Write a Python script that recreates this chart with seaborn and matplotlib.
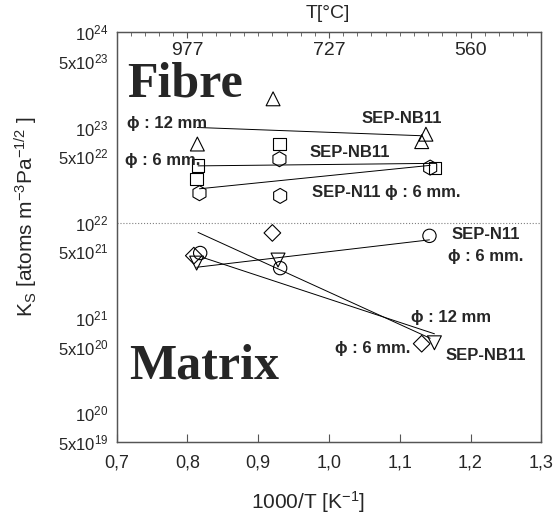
import matplotlib
matplotlib.use("Agg")
import matplotlib.pyplot as plt
import seaborn as sns

# ---- Fibre ----
# SEP-NB11, phi 12 mm (triangles)
fib_nb12_x = [0.814, 0.921, 1.137, 1.131]
fib_nb12_y = [6.7e22, 2.0e23, 8.5e22, 7.1e22]
fib_nb12_fit_x = [0.814, 1.129]
fib_nb12_fit_y = [1.0e23, 8.2e22]
# SEP-NB11, phi 6 mm (squares)
fib_nb6_x = [0.815, 0.813, 0.930, 1.150]
fib_nb6_y = [3.98e22, 2.88e22, 6.67e22, 3.73e22]
fib_nb6_fit_x = [0.815, 1.150]
fib_nb6_fit_y = [3.95e22, 4.2e22]
# SEP-N11, phi 6 mm (hexagons)
fib_n6_x = [0.817, 0.930, 0.931, 1.143]
fib_n6_y = [2.04e22, 4.64e22, 1.91e22, 3.79e22]
fib_n6_fit_x = [0.817, 1.143]
fib_n6_fit_y = [2.27e22, 4.0e22]

# ---- Matrix ----
# SEP-NB11, phi 12 mm (down triangles)
mat_nb12_x = [0.813, 0.928, 1.149]
mat_nb12_y = [3.76e21, 4.05e21, 5.47e20]
mat_nb12_fit_x = [0.822, 1.149]
mat_nb12_fit_y = [4.3e21, 6.8e20]
# SEP-NB11, phi 6 mm (diamonds)
mat_nb6_x = [0.809, 0.920, 1.131]
mat_nb6_y = [4.5e21, 7.8e21, 5.35e20]
mat_nb6_fit_x = [0.815, 1.143]
mat_nb6_fit_y = [7.9e21, 6.1e20]
# SEP-N11, phi 6 mm (circles)
mat_n6_x = [0.818, 0.931, 1.142]
mat_n6_y = [4.8e21, 3.33e21, 7.27e21]
mat_n6_fit_x = [0.813, 1.142]
mat_n6_fit_y = [3.4e21, 6.6e21]

x_ticks = [0.7, 0.8, 0.9, 1.0, 1.1, 1.2, 1.3]
x_labels = ["0,7", "0,8", "0,9", "1,0", "1,1", "1,2", "1,3"]
y_major = [1e20, 1e21, 1e22, 1e23, 1e24]
y_major_labels = ["$10^{20}$", "$10^{21}$", "$10^{22}$", "$10^{23}$", "$10^{24}$"]
y_minor = [5e19, 5e20, 5e21, 5e22, 5e23]
y_minor_labels = ["5x$10^{19}$", "5x$10^{20}$", "5x$10^{21}$", "5x$10^{22}$", "5x$10^{23}$"]
T_C = [977, 727, 560]

sns.set_style("white")
plt.rcParams["font.family"] = ["Liberation Sans", "DejaVu Sans"]
plt.rcParams["mathtext.fontset"] = "custom"
plt.rcParams["mathtext.rm"] = "Liberation Sans"
plt.rcParams["mathtext.it"] = "Liberation Sans:italic"
plt.rcParams["mathtext.bf"] = "Liberation Sans:bold"

fig = plt.figure(figsize=(5.53, 5.2), dpi=100)
ax = fig.add_axes([0.211, 0.1506, 0.7678, 0.7873])
ax.set_yscale("log")


def fit(x, y):
    sns.lineplot(x=x, y=y, color="black", linewidth=0.7, ax=ax, sort=False, estimator=None)


def pts(x, y, marker, size):
    sns.scatterplot(x=x, y=y, marker=marker, s=size, color="black", edgecolor="black",
                    linewidth=0.8, ax=ax, zorder=3)
    ax.collections[-1].set_facecolor("none")


fit(fib_nb12_fit_x, fib_nb12_fit_y)
fit(fib_nb6_fit_x, fib_nb6_fit_y)
fit(fib_n6_fit_x, fib_n6_fit_y)
fit(mat_nb12_fit_x, mat_nb12_fit_y)
fit(mat_nb6_fit_x, mat_nb6_fit_y)
fit(mat_n6_fit_x, mat_n6_fit_y)

pts(fib_nb12_x, fib_nb12_y, "^", 100)
pts(fib_nb6_x, fib_nb6_y, "s", 80)
pts(fib_n6_x, fib_n6_y, "h", 117)
pts(mat_nb12_x, mat_nb12_y, "v", 100)
pts(mat_nb6_x, mat_nb6_y, "D", 72)
pts(mat_n6_x, mat_n6_y, "o", 92)

ax.axhline(1e22, color="gray", linestyle=":", linewidth=0.8)

ax.set_xlim(0.7, 1.3)
ax.set_ylim(5e19, 1e24)
ax.set_xticks(x_ticks, labels=x_labels)
ax.set_yticks(y_major, labels=y_major_labels)
ax.set_yticks(y_minor, labels=y_minor_labels, minor=True)
ax.tick_params(axis="both", which="major", direction="in", length=6, width=0.8, color="#555555")
ax.tick_params(axis="x", labelsize=13, pad=9)
ax.tick_params(axis="y", which="both", labelsize=12, pad=6)
ax.tick_params(axis="y", which="minor", length=0)
ax.set_xlabel("")
ax.set_ylabel("")

# top axis in deg C
ax2 = ax.twiny()
ax2.set_xlim(0.7, 1.3)
ax2.set_xticks([1000 / (t + 273.15) for t in T_C], labels=[str(t) for t in T_C])
ax2.set_xticks([0.7 + 0.02 * i for i in range(31)], minor=True)
ax2.tick_params(which="major", direction="in", length=4, width=0.8, color="#555555",
                pad=-19, labelsize=14)
ax2.tick_params(which="minor", direction="in", length=3, width=0.6, color="#555555")

for a in (ax, ax2):
    for sp in a.spines.values():
        sp.set_color("#555555")
        sp.set_linewidth(0.9)

# annotations
big = dict(family="Liberation Serif", fontweight="bold", fontsize=36)
ax.text(0.7146, 2.1e23, "Fibre", va="baseline", ha="left", **big)
ax.text(0.717, 2.28e20, "Matrix", va="baseline", ha="left", **big)

lab = dict(fontweight="bold", fontsize=12, va="center", ha="left",
           family=["Liberation Sans", "DejaVu Sans"])
ax.text(0.7146, 1.11e23, "ϕ : 12 mm", **lab)
ax.text(0.7117, 4.46e22, "ϕ : 6 mm.", **lab)
ax.text(1.046, 1.25e23, "SEP-NB11", **lab)
ax.text(0.9727, 5.45e22, "SEP-NB11", **lab)
ax.text(0.976, 2.09e22, "SEP-N11 ϕ : 6 mm.", **lab)
ax.text(1.173, 7.45e21, "SEP-N11", **lab)
ax.text(1.168, 4.4e21, "ϕ : 6 mm.", **lab)
ax.text(1.116, 1.02e21, "ϕ : 12 mm", **lab)
ax.text(1.0085, 4.8e20, "ϕ : 6 mm.", **lab)
ax.text(1.165, 4.03e20, "SEP-NB11", **lab)

fig.text(328 / 553, 1 - 13 / 520, "T[°C]", ha="center", va="center", fontsize=14)
fig.text(308 / 553, 1 - 502 / 520, "1000/T [K$^{-1}$]", ha="center", va="center", fontsize=15)
fig.text(26 / 553, 1 - 217 / 520, "K$_\\mathrm{S}$ [atoms m$^{-3}$Pa$^{-1/2}$ ]",
         ha="center", va="center", rotation=90, fontsize=15)

fig.savefig("out.png", dpi=100)
